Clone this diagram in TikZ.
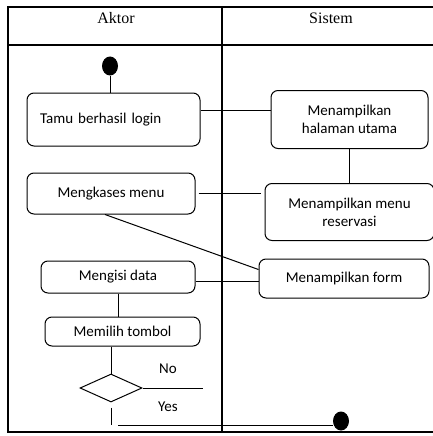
\documentclass[tikz,border=0pt]{standalone}
\usepackage{fontspec}
\setmainfont{Carlito}
\newfontfamily\headfont{Liberation Serif}
\usetikzlibrary{positioning}
\usetikzlibrary{shapes.geometric}

\begin{document}
\begin{tikzpicture}[x=1pt, y=-1pt,
                line width=1pt,
                node distance=26pt,
                act/.style = {shape=rectangle, draw, rounded corners=7pt, align=center,
                              font=\fontsize{15}{18}\selectfont, inner sep=2pt},
                dot/.style = {shape=ellipse, fill, minimum width=16pt, minimum height=19pt, inner sep=0pt},
                txt/.style = {font=\fontsize{15}{18}\selectfont},
                head/.style = {font=\headfont\fontsize{16}{18}\selectfont}]
            \useasboundingbox (0,0) rectangle (433,436);

            % swimlanes
            \draw[line width=1.2pt] (433,7) -- (8,7) -- (8,432) -- (433,432);
            \draw[line width=1.2pt] (8,45) -- (433,45);
            \draw[line width=1.2pt] (222,7) -- (222,432);
            \node[head] (h_aktor) at (116,18) {Aktor};
            \node[head] (h_sistem) at (331,18) {Sistem};

            \node[dot] (a_start) at (110,66) {};
            \node[act, text width=147pt, align=left, inner xsep=13pt, minimum height=53pt] (a_login) at (113.5,119.5) {Tamu berhasil login};
            \node[act, minimum width=157pt, minimum height=58pt, right = 70pt of a_login] (s_utama) {Menampilkan \\ halaman utama};

            \node[act, minimum width=168pt, minimum height=41pt, below = of a_login, xshift=-2.5pt] (a_menu) {Mengkases menu};
            \node[act, minimum width=169pt, minimum height=57pt, below = 34pt of s_utama] (s_reservasi) {Menampilkan menu \\ reservasi};

            \node[act, minimum width=154pt, minimum height=32pt] (a_data) at (118,277) {Mengisi data};
            \node[act, minimum width=170pt, minimum height=39pt, right = 63pt of a_data, yshift=-1.5pt] (s_form) {Menampilkan form};

            \node[act, minimum width=155pt, minimum height=29pt, below = 23pt of a_data, xshift=4.5pt] (a_tombol) {Memilih tombol};
            \node[shape=diamond, draw, minimum width=62pt, minimum height=28pt, inner sep=0pt] (a_pilih) at (111,388) {};

            \node[txt] (l_no) at (168,369) {No};
            \node[txt] (l_yes) at (168,407) {Yes};
            \coordinate (c_no) at (203,388);
            \coordinate (c_yes) at (111,425);
            \node[dot] (s_stop) at (341,421) {};

            \path
            (a_start)                  edge (a_start |- a_login.north)
            ([yshift=9pt]a_login.east) edge ([yshift=9pt]a_login.east -| s_utama.west)
            (s_utama)                  edge (s_reservasi)
            (a_menu.east)              edge[shorten <=3pt, shorten >=4pt] (a_menu.east -| s_reservasi.west)
            (a_menu.254)               edge (s_form.174)
            ([yshift=-4.5pt]a_data.east) edge ([yshift=-4.5pt]a_data.east -| s_form.west)
            (a_data.south)             edge (a_data.south |- a_tombol.north)
            (a_pilih.north |- a_tombol.south) edge (a_pilih.north)
            (a_pilih.east)             edge (c_no)
            ([yshift=-5pt]a_pilih.south) edge (c_yes)
            ([xshift=7pt]c_yes)        edge (c_yes -| s_stop.west);
        \end{tikzpicture}
\end{document}
